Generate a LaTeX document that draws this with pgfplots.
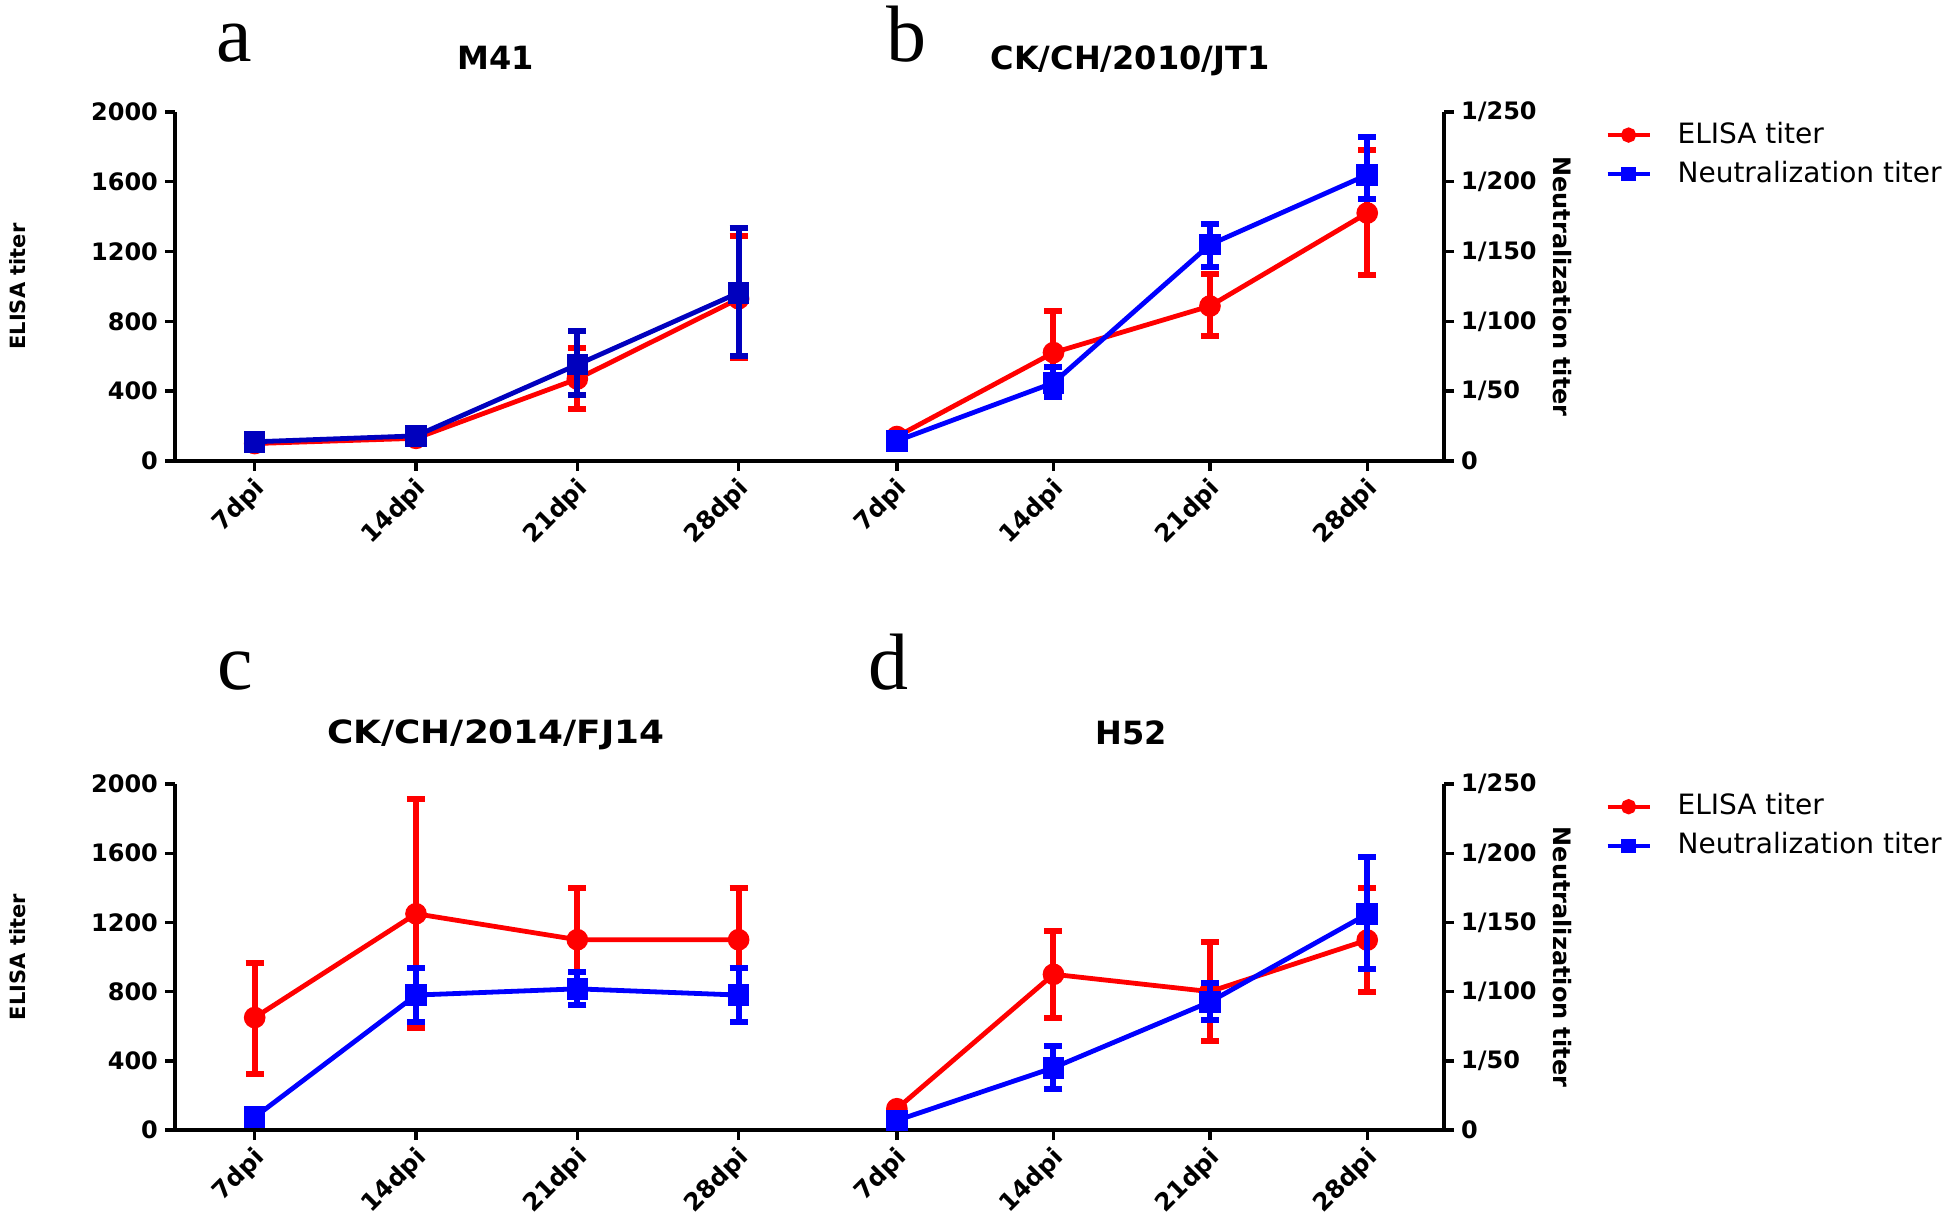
\documentclass[border=0pt]{standalone}
\usepackage{fontspec}
\setmainfont{DejaVu Sans}
\newfontfamily\letterfont{Liberation Serif}
\usepackage{pgfplots}
\pgfplotsset{compat=1.18}

\definecolor{elisared}{RGB}{255,0,0}
\definecolor{neutblue}{RGB}{0,0,255}
\definecolor{darkblue}{RGB}{0,0,190}

\newcommand\tickfont{\bfseries\fontsize{12}{14}\selectfont}
\newcommand\xtickfont{\bfseries\fontsize{12.3}{14}\selectfont}
\newcommand\titlefont{\bfseries\fontsize{16}{18}\selectfont}

\pgfplotsset{
  titer/.style={
    scale only axis, width=634.5pt, height=174.5pt,
    xmin=-0.494, xmax=7.373, ymin=0,
    axis line style={line width=1.7pt},
    tick style={line width=1.7pt, black},
    major tick length=5pt, tick align=outside,
    clip=false,
  },
  elisa/.style={titer,
    axis x line*=bottom, axis y line*=left,
    ymax=2000, ytick={0,400,...,2000},
    yticklabels={0,400,800,1200,1600,2000},
    yticklabel style={font=\tickfont},
    xtick={0,1,2,3,3.981,4.952,5.922,6.897},
    xticklabels={7dpi,14dpi,21dpi,28dpi,7dpi,14dpi,21dpi,28dpi},
    % shifts are in the rotated frame of the label
    xticklabel style={font=\xtickfont, rotate=45, anchor=north east,
      inner sep=0pt, xshift=-2.6pt, yshift=-1pt},
    ylabel={\bfseries\fontsize{10.5}{12}\selectfont ELISA titer},
    ylabel style={at={(axis description cs:-0.1237,0.5)}, anchor=center},
  },
  neut/.style={titer,
    axis x line=none, axis y line*=right,
    ymax=250, ytick={0,50,...,250},
    yticklabels={0,1/50,1/100,1/150,1/200,1/250},
    yticklabel style={font=\tickfont},
    ylabel={\bfseries\fontsize{12}{14}\selectfont Neutralization titer},
    ylabel style={at={(axis description cs:1.093,0.5)}, anchor=center, rotate=180},
    legend style={draw=none, fill=none, at={(axis description cs:1.127,0.878)},
      anchor=west, inner sep=0pt, font=\fontsize{14}{16}\selectfont,
      row sep=5.5pt, nodes={inner sep=0pt, text height=11pt, text depth=3pt},
      /tikz/column sep=13pt},
    legend cell align=left,
    legend image code/.code={
      \draw[mark repeat=2, mark phase=2, #1] plot coordinates {(0pt,0pt) (10.5pt,0pt) (21pt,0pt)};},
  },
  series/.style={color=#1, line width=2.4pt, forget plot,
    /pgfplots/error bars/y dir=both, /pgfplots/error bars/y explicit,
    /pgfplots/error bars/error bar style={line width=3pt},
    /pgfplots/error bars/error mark options={rotate=90, line width=3pt, mark size=4.5pt}},
  eline/.style={series=elisared, mark=*, mark size=4.2pt},
  nline/.style={series=#1, mark=square*, mark size=4.2pt},
}

\begin{document}
\begin{tikzpicture}

% ---------- top row: a (M41) and b (CK/CH/2010/JT1)
\begin{axis}[elisa, at={(87.5pt,377.5pt)}, anchor=south west]
\addplot[eline] coordinates {(0,100) +- (0,10) (1,130) +- (0,12)
  (2,470) += (0,178) -= (0,170) (3,930) += (0,358) -= (0,340)};
\addplot[eline] coordinates {(3.981,140) +- (0,15) (4.952,621) += (0,236) -= (0,225)
  (5.922,888) += (0,185) -= (0,174) (6.897,1421) += (0,359) -= (0,354)};
\end{axis}
\begin{axis}[neut, at={(87.5pt,377.5pt)}, anchor=south west]
\addlegendimage{color=elisared, line width=2pt, mark=*, mark size=2.8pt}
\addlegendentry{ELISA titer}
\addlegendimage{color=neutblue, line width=2pt, mark=square*, mark size=2.6pt}
\addlegendentry{Neutralization titer}
\addplot[nline=darkblue] coordinates {(0,13.75) +- (0,1.5) (1,18) +- (0,1.5)
  (2,69) += (0,24) -= (0,22) (3,120.5) += (0,46.5) -= (0,45.5)};
\addplot[nline=neutblue] coordinates {(3.981,14.4) +- (0,4) (4.952,56) += (0,11) -= (0,10)
  (5.922,155) += (0,15) -= (0,16) (6.897,205) += (0,27) -= (0,17)};
\end{axis}

% ---------- bottom row: c (CK/CH/2014/FJ14) and d (H52)
\begin{axis}[elisa, at={(87.5pt,43pt)}, anchor=south west, height=173pt]
\addplot[eline] coordinates {(0,650) += (0,317) -= (0,326) (1,1250) += (0,661) -= (0,660)
  (2,1100) += (0,296) -= (0,300) (3,1100) += (0,300) -= (0,300)};
\addplot[eline] coordinates {(3.981,123) +- (0,10) (4.952,900) += (0,251) -= (0,251)
  (5.922,800) += (0,285) -= (0,283) (6.897,1098) += (0,302) -= (0,300)};
\end{axis}
\begin{axis}[neut, at={(87.5pt,43pt)}, anchor=south west, height=173pt]
\addlegendimage{color=elisared, line width=2pt, mark=*, mark size=2.8pt}
\addlegendentry{ELISA titer}
\addlegendimage{color=neutblue, line width=2pt, mark=square*, mark size=2.6pt}
\addlegendentry{Neutralization titer}
\addplot[nline=neutblue] coordinates {(0,9.3) +- (0,1) (1,97.5) += (0,19.5) -= (0,19.5)
  (2,102) += (0,12) -= (0,12) (3,97.5) += (0,19.5) -= (0,19.5)};
\addplot[nline=neutblue] coordinates {(3.981,6.9) +- (0,1) (4.952,45) += (0,15.6) -= (0,15.2)
  (5.922,92.6) += (0,13.3) -= (0,12.8) (6.897,156) += (0,41.6) -= (0,39.5)};
\end{axis}

% ---------- panel letters and titles
\begin{scope}[every node/.style={anchor=base}]
\node[font=\letterfont\fontsize{40}{40}\selectfont] at (117pt,577pt) {a};
\node[font=\letterfont\fontsize{40}{40}\selectfont] at (453pt,577pt) {b};
\node[font=\letterfont\fontsize{40}{40}\selectfont] at (117.5pt,263pt) {c};
\node[font=\letterfont\fontsize{40}{40}\selectfont] at (444pt,263pt) {d};
\node[font=\titlefont] at (248pt,573pt) {M41};
\node[font=\titlefont] at (565pt,573pt) {CK/CH/2010/JT1};
\node[font=\titlefont, xscale=1.12] at (248pt,236.5pt) {CK/CH/2014/FJ14};
\node[font=\titlefont] at (565.5pt,236pt) {H52};
\end{scope}

\pgfresetboundingbox
\useasboundingbox (0,0) rectangle (973pt,608pt);
\end{tikzpicture}
\end{document}
